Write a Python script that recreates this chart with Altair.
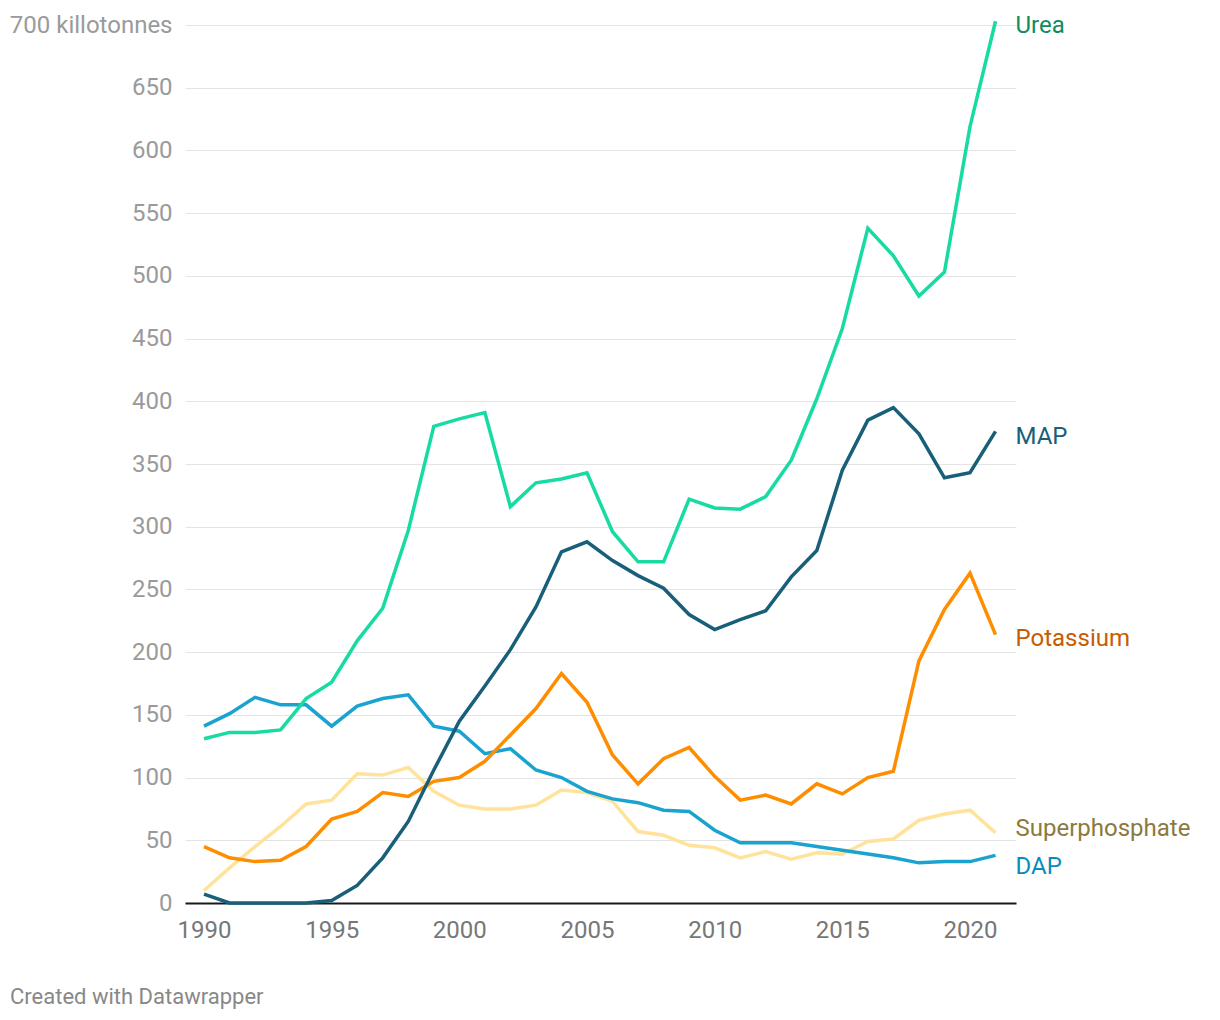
import altair as alt
import pandas as pd

years = list(range(1990, 2022))
urea = [131, 136, 136, 138, 163, 176, 209, 235, 297, 380, 386, 391, 316, 335, 338, 343,
        296, 272, 272, 322, 315, 314, 324, 353, 402, 458, 538, 516, 484, 503, 619, 703]
map_ = [7, 0, 0, 0, 0, 2, 14, 36, 65, 106, 145, 173, 202, 236, 280, 288,
        273, 261, 251, 230, 218, 226, 233, 260, 281, 345, 385, 395, 374, 339, 343, 376]
potassium = [45, 36, 33, 34, 45, 67, 73, 88, 85, 97, 100, 113, 134, 155, 183, 160,
             118, 95, 115, 124, 101, 82, 86, 79, 95, 87, 100, 105, 193, 234, 263, 214]
superphosphate = [10, 28, 45, 61, 79, 82, 103, 102, 108, 89, 78, 75, 75, 78, 90, 88,
                  81, 57, 54, 46, 44, 36, 41, 35, 40, 39, 49, 51, 66, 71, 74, 56]
dap = [141, 151, 164, 158, 158, 141, 157, 163, 166, 141, 137, 119, 123, 106, 100, 89,
       83, 80, 74, 73, 58, 48, 48, 48, 45, 42, 39, 36, 32, 33, 33, 38]

series_names = ["Superphosphate", "DAP", "Potassium", "MAP", "Urea"]
series_values = [superphosphate, dap, potassium, map_, urea]
x_ticks = [1990, 1995, 2000, 2005, 2010, 2015, 2020]
y_ticks = list(range(0, 701, 50))
footer_text = ["Created with Datawrapper"]

# styles
line_colors = {"Urea": "#17dba2", "MAP": "#185f7a", "Potassium": "#ff8d00",
               "Superphosphate": "#ffe39b", "DAP": "#1ba3d0"}
label_colors = {"Urea": "#0f8c5e", "MAP": "#185f7a", "Potassium": "#c65c00",
                "Superphosphate": "#8a7a3c", "DAP": "#0a8cbc"}
label_dy = {"Urea": 5, "MAP": 6, "Potassium": 4, "Superphosphate": -4, "DAP": 12}

FONT = "Roboto"
W, H = 831, 878

x_scale = alt.Scale(domain=[1989.256, 2021.802], nice=False, zero=False)
y_scale = alt.Scale(domain=[0, 700], nice=False)

x_axis = alt.Axis(values=x_ticks, format="d", title=None, grid=False, ticks=False,
                  domainColor="#1a1a1a", domainWidth=2, labelColor="#777777",
                  labelFontSize=24, labelPadding=15, labelFont=FONT)
y_axis = alt.Axis(values=y_ticks, title=None, ticks=False, domain=False, grid=True,
                  gridColor="#e4e4e4", gridWidth=1, labelColor="#9a9a9a",
                  labelFontSize=24, labelPadding=13, labelFont=FONT,
                  labelExpr="datum.value == 700 ? '700 killotonnes' : datum.label")

X = alt.X("year:Q", scale=x_scale, axis=x_axis)
Y = alt.Y("value:Q", scale=y_scale, axis=y_axis)

layers = []
for name, vals in zip(series_names, series_values):
    df = pd.DataFrame({"year": years, "value": vals, "series": name})
    layers.append(
        alt.Chart(df).mark_line(strokeWidth=3.5, color=line_colors[name]).encode(x=X, y=Y)
    )

for name, vals in zip(series_names, series_values):
    ldf = pd.DataFrame({"year": [years[-1]], "value": [vals[-1]], "series": [name]})
    layers.append(
        alt.Chart(ldf).mark_text(align="left", baseline="middle", dx=20, dy=label_dy[name],
                                 font=FONT, fontSize=24, color=label_colors[name]).encode(
            x=X, y=Y, text="series:N",
        )
    )

footer = alt.Chart(pd.DataFrame({"t": footer_text})).mark_text(
    align="left", baseline="middle", font=FONT, fontSize=22, color="#888888"
).encode(x=alt.value(-175), y=alt.value(972), text="t:N")
layers.append(footer)

chart = alt.layer(*layers).properties(
    width=W, height=H,
    autosize=alt.AutoSizeParams(type="none"),
    padding={"left": 177, "top": 17, "right": 190, "bottom": 110},
).configure(background="white").configure_view(stroke=None)

chart.save("out.html", embed_options={"renderer": "svg", "actions": False})
